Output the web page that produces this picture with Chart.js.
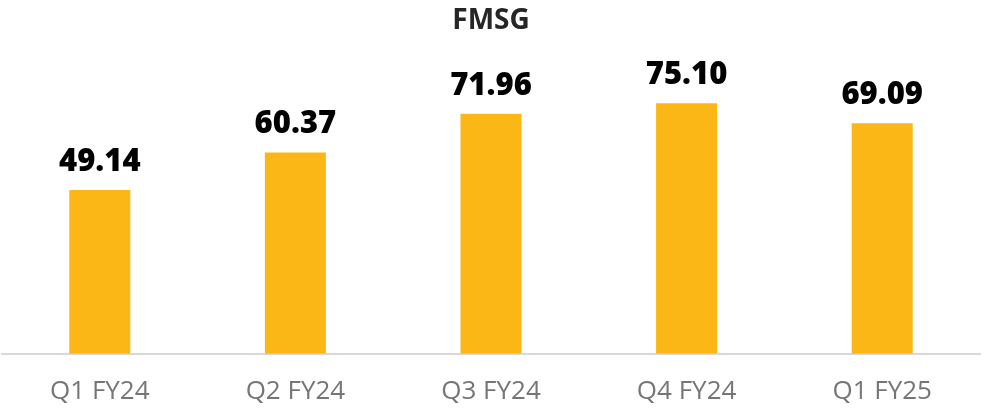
<!DOCTYPE html>
<html>
<head>
<meta charset="utf-8">
<script src="https://cdn.jsdelivr.net/npm/chart.js@4/dist/chart.umd.min.js"></script>
<style>
  html, body { margin: 0; padding: 0; background: #fff; }
  #wrap { width: 987px; height: 411px; position: relative; }
</style>
</head>
<body>
<div id="wrap"><canvas id="chart"></canvas></div>
<script>
// данные графика
const chartTitle = "FMSG";
const quarters = ["Q1 FY24", "Q2 FY24", "Q3 FY24", "Q4 FY24", "Q1 FY25"];
const fmsgValues = [49.14, 60.37, 71.96, 75.10, 69.09];

const barColor = "#FBB715";

// подписи значений над столбцами
const valueLabels = {
  id: "valueLabels",
  afterDatasetsDraw(chart) {
    const ctx = chart.ctx;
    const meta = chart.getDatasetMeta(0);
    ctx.save();
    ctx.font = "800 31px 'Open Sans'";
    ctx.fillStyle = "#000";
    ctx.textAlign = "center";
    ctx.textBaseline = "alphabetic";
    meta.data.forEach((bar, i) => {
      ctx.fillText(fmsgValues[i].toFixed(2), bar.x, bar.y - 19);
    });
    ctx.restore();
  },
};

new Chart(document.getElementById("chart"), {
  type: "bar",
  data: {
    labels: quarters,
    datasets: [
      {
        data: fmsgValues,
        backgroundColor: barColor,
        borderWidth: 0,
        categoryPercentage: 1,
        barPercentage: 0.312,
      },
    ],
  },
  options: {
    responsive: true,
    maintainAspectRatio: false,
    animation: false,
    layout: { padding: { top: 4, left: 2, right: 7, bottom: -18 } },
    plugins: {
      legend: { display: false },
      tooltip: { enabled: false },
      title: {
        display: true,
        text: chartTitle,
        color: "#262626",
        font: { family: "'Open Sans'", size: 28, weight: "bold" },
        padding: { top: 0, bottom: 16 },
      },
    },
    scales: {
      x: {
        grid: { display: false, drawTicks: false },
        border: { display: true, color: "#d9d9d9", width: 2 },
        ticks: {
          color: "#767676",
          padding: 22,
          font: { family: "'Open Sans'", size: 26 },
        },
      },
      y: {
        display: false,
        min: 0,
        max: 90,
      },
    },
  },
  plugins: [valueLabels],
});
</script>
</body>
</html>
